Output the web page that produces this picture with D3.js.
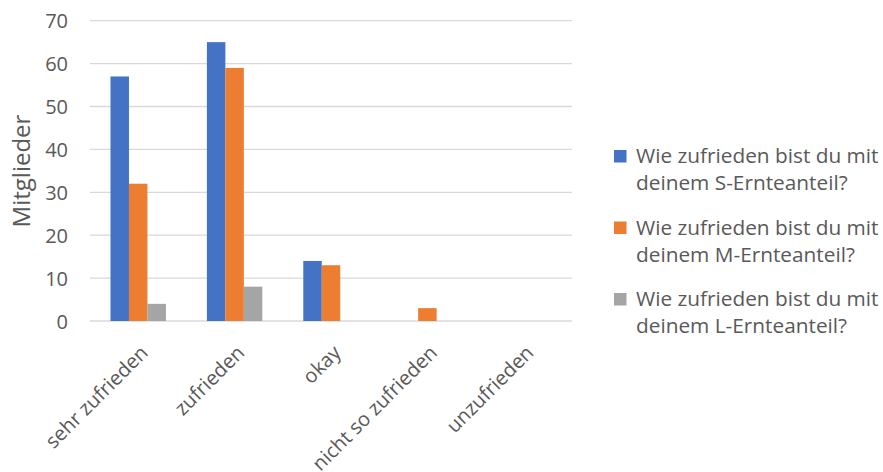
<!DOCTYPE html>
<html>
<head>
<meta charset="utf-8">
<script src="https://cdn.jsdelivr.net/npm/d3@7"></script>
<style>
  body { margin: 0; background: #fff; }
  text { font-family: "Open Sans", sans-serif; fill: #595959; }
</style>
</head>
<body>
<svg id="chart" width="883" height="472"></svg>
<script>
// categories and series
const categories = ["sehr zufrieden", "zufrieden", "okay", "nicht so zufrieden", "unzufrieden"];
const seriesNames = [
    ["Wie zufrieden bist du mit", "deinem S-Ernteanteil?"],
    ["Wie zufrieden bist du mit", "deinem M-Ernteanteil?"],
    ["Wie zufrieden bist du mit", "deinem L-Ernteanteil?"]
];
const sValues = [57, 65, 14, 0, 0];
const mValues = [32, 59, 13, 3, 0];
const lValues = [4, 8, 0, 0, 0];
const yTicks = [0, 10, 20, 30, 40, 50, 60, 70];
const colors = ["#4472c4", "#ed7d31", "#a5a5a5"];

const series = [sValues, mValues, lValues];

const PLOT_LEFT = 90, PLOT_RIGHT = 572, PLOT_TOP = 20.7, PLOT_BOTTOM = 321;
const FONT = "'Open Sans', sans-serif";

const svg = d3.select("#chart");

let x0 = d3.scaleBand()
    .domain(categories)
    .range([PLOT_LEFT, PLOT_RIGHT])
    .paddingInner(0.425)
    .paddingOuter(0.2125);

let x1 = d3.scaleBand()
    .domain(d3.range(series.length))
    .range([0, x0.bandwidth()]);

let y = d3.scaleLinear()
    .domain([0, 70])
    .range([PLOT_BOTTOM, PLOT_TOP]);

// gridlines
svg.append("g")
    .selectAll("line")
    .data(yTicks)
    .join("line")
    .attr("x1", PLOT_LEFT)
    .attr("x2", PLOT_RIGHT)
    .attr("y1", d => y(d))
    .attr("y2", d => y(d))
    .attr("stroke", "#d9d9d9")
    .attr("stroke-width", 1.3);

// y tick labels
let yAxis = svg.append("g")
    .attr("transform", "translate(" + (PLOT_LEFT - 22) + ",0)")
    .call(d3.axisLeft(y).tickValues(yTicks).tickSize(0).tickPadding(0));
yAxis.select(".domain").remove();
yAxis.selectAll("text")
    .style("font-family", FONT)
    .style("font-size", "20px")
    .attr("dy", "0.36em")
    .attr("fill", "#595959");

// bars
let groups = svg.append("g")
    .selectAll("g")
    .data(categories)
    .join("g")
    .attr("transform", d => "translate(" + x0(d) + ",0)");

groups.selectAll("rect")
    .data((c, ci) => series.map((s, si) => ({ si: si, v: s[ci] })))
    .join("rect")
    .attr("x", d => x1(d.si))
    .attr("width", x1.bandwidth())
    .attr("y", d => y(d.v))
    .attr("height", d => y(0) - y(d.v))
    .attr("fill", d => colors[d.si]);

// x labels, rotated
svg.append("g")
    .selectAll("text")
    .data(categories)
    .join("text")
    .attr("text-anchor", "end")
    .attr("transform", d => {
        let cx = x0(d) + x0.bandwidth() / 2 + 11;
        return "translate(" + cx + "," + (PLOT_BOTTOM + 33) + ") rotate(-45)";
    })
    .style("font-size", "20px")
    .text(d => d);

// y axis title
svg.append("text")
    .attr("transform", "translate(30,171) rotate(-90)")
    .attr("text-anchor", "middle")
    .style("font-size", "24px")
    .text("Mitglieder");

// legend
let legend = svg.append("g")
    .selectAll("g")
    .data(seriesNames)
    .join("g")
    .attr("transform", (d, i) => "translate(614," + (150 + i * 71.5) + ")");

legend.append("rect")
    .attr("width", 12.5)
    .attr("height", 12.5)
    .attr("fill", (d, i) => colors[i]);

legend.append("text")
    .attr("x", 22)
    .attr("y", 13)
    .style("font-size", "20.8px")
    .text(d => d[0]);

legend.append("text")
    .attr("x", 22)
    .attr("y", 40)
    .style("font-size", "20.8px")
    .text(d => d[1]);
</script>
</body>
</html>
